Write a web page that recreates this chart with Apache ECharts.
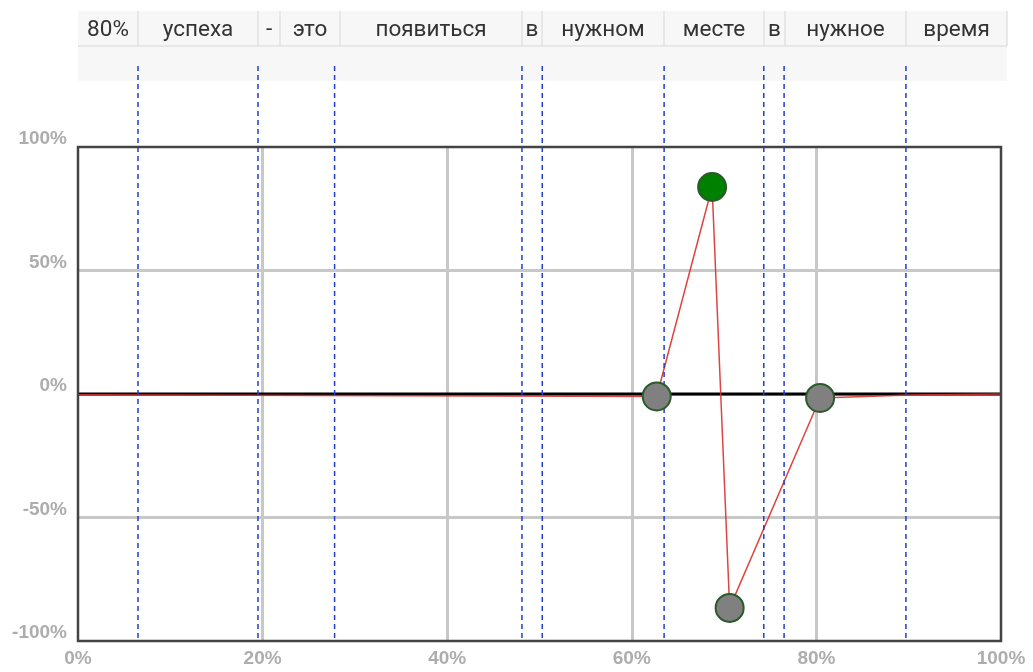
<!DOCTYPE html>
<html>
<head>
<meta charset="utf-8">
<script src="https://cdn.jsdelivr.net/npm/echarts@6/dist/echarts.min.js"></script>
<style>
html,body{margin:0;padding:0;background:#fff;}
#chart{width:1033px;height:672px;}
</style>
</head>
<body>
<div id="chart"></div>
<script>
// ---- data ----
const words = ['80%', 'успеха', '-', 'это', 'появиться', 'в', 'нужном', 'месте', 'в', 'нужное', 'время'];
const wordCellEdges = [78, 138, 258, 280, 340, 522, 542, 664, 764, 785, 906, 1007]; // table layout (px)
const wordBoundaries = [6.5, 19.5, 27.8, 48.1, 50.3, 63.5, 74.3, 76.5, 89.7]; // x in %
const lineX = [0, 62.7, 68.7, 70.6, 80.4, 90, 100];
const lineY = [-0.3, -1.0, 83.8, -86.6, -1.6, -0.4, 0];
const markerX = [62.7, 68.7, 70.6, 80.4];
const markerY = [-1.0, 83.8, -86.6, -1.6];
const markerColors = ['#808080', '#008000', '#808080', '#808080'];

const chart = echarts.init(document.getElementById('chart'), null, {renderer: 'canvas'});

// table graphics
const tableTop = 11, rowH = 35, tableBottom = 81;
const graphics = [];
graphics.push({type: 'rect', shape: {x: wordCellEdges[0], y: tableTop, width: wordCellEdges[wordCellEdges.length-1]-wordCellEdges[0], height: tableBottom-tableTop}, style: {fill: '#f7f7f7', stroke: null}, z: -10});
graphics.push({type: 'line', shape: {x1: wordCellEdges[0], y1: tableTop+rowH, x2: wordCellEdges[wordCellEdges.length-1], y2: tableTop+rowH}, style: {stroke: '#e2e2e2', lineWidth: 1.5}, z: -9});
for (let i = 1; i < wordCellEdges.length; i++) {
  graphics.push({type: 'line', shape: {x1: wordCellEdges[i], y1: tableTop, x2: wordCellEdges[i], y2: tableTop+rowH}, style: {stroke: '#e2e2e2', lineWidth: 1.5}, z: -9});
}
words.forEach((w, i) => {
  graphics.push({type: 'text', x: (wordCellEdges[i]+wordCellEdges[i+1])/2, y: tableTop + rowH/2 + 1.5,
    style: {text: w, fill: '#333', font: '22.5px Roboto', textAlign: 'center', textVerticalAlign: 'middle'}, z: -8});
});

const dashTop = 66;

chart.setOption({
  animation: false,
  graphic: graphics,
  grid: {left: 78, right: 32, top: 147, bottom: 31, show: false},
  xAxis: {
    type: 'value', min: 0, max: 100, interval: 20,
    axisLine: {show: false}, axisTick: {show: false},
    splitLine: {show: true, showMinLine: false, showMaxLine: false, lineStyle: {color: '#c8c8c8', width: 3}},
    axisLabel: {formatter: '{value}%', color: '#adadad', fontSize: 19, fontWeight: 'bold', fontFamily: 'Liberation Sans', margin: 8,
      showMinLabel: true, showMaxLabel: true}
  },
  yAxis: {
    type: 'value', min: -100, max: 100, interval: 50,
    axisLine: {show: false}, axisTick: {show: false},
    splitLine: {show: true, showMinLine: false, showMaxLine: false, lineStyle: {color: '#c8c8c8', width: 3}},
    axisLabel: {formatter: '{value}%', color: '#adadad', fontSize: 19, fontWeight: 'bold', fontFamily: 'Liberation Sans', margin: 11,
      verticalAlign: 'bottom', lineHeight: 16}
  },
  series: [
    {
      type: 'line', data: [[0, 0], [100, 0]], symbol: 'none', silent: true,
      lineStyle: {color: '#000', width: 3}, z: 3
    },
    {
      type: 'line', data: lineX.map((x, i) => [x, lineY[i]]), symbol: 'none',
      lineStyle: {color: '#d9302c', width: 1.5, opacity: 0.9}, z: 4
    },
    {
      type: 'custom', z: 5, clip: false,
      data: wordBoundaries.map(v => [v]),
      renderItem: function (params, api) {
        const bottom = api.coord([api.value(0), -100]);
        return {
          type: 'line',
          shape: {x1: bottom[0], y1: dashTop, x2: bottom[0], y2: bottom[1]},
          style: {stroke: '#1f3fcc', lineWidth: 1.5, lineDash: [5, 4]}
        };
      }
    },
    {
      type: 'custom', z: 7, clip: false, silent: true,
      data: [[0, -100, 100, 100]],
      renderItem: function (params, api) {
        const p0 = api.coord([api.value(0), api.value(3)]);
        const p1 = api.coord([api.value(2), api.value(1)]);
        return {
          type: 'rect',
          shape: {x: p0[0], y: p0[1], width: p1[0]-p0[0], height: p1[1]-p0[1]},
          style: {fill: null, stroke: '#444', lineWidth: 2.5}
        };
      }
    },
    {
      type: 'scatter', z: 6, symbolSize: 28,
      data: markerX.map((x, i) => ({value: [x, markerY[i]], itemStyle: {color: markerColors[i]}})),
      itemStyle: {borderColor: '#2b5a2b', borderWidth: 2, opacity: 1}
    }
  ]
});
</script>
</body>
</html>
